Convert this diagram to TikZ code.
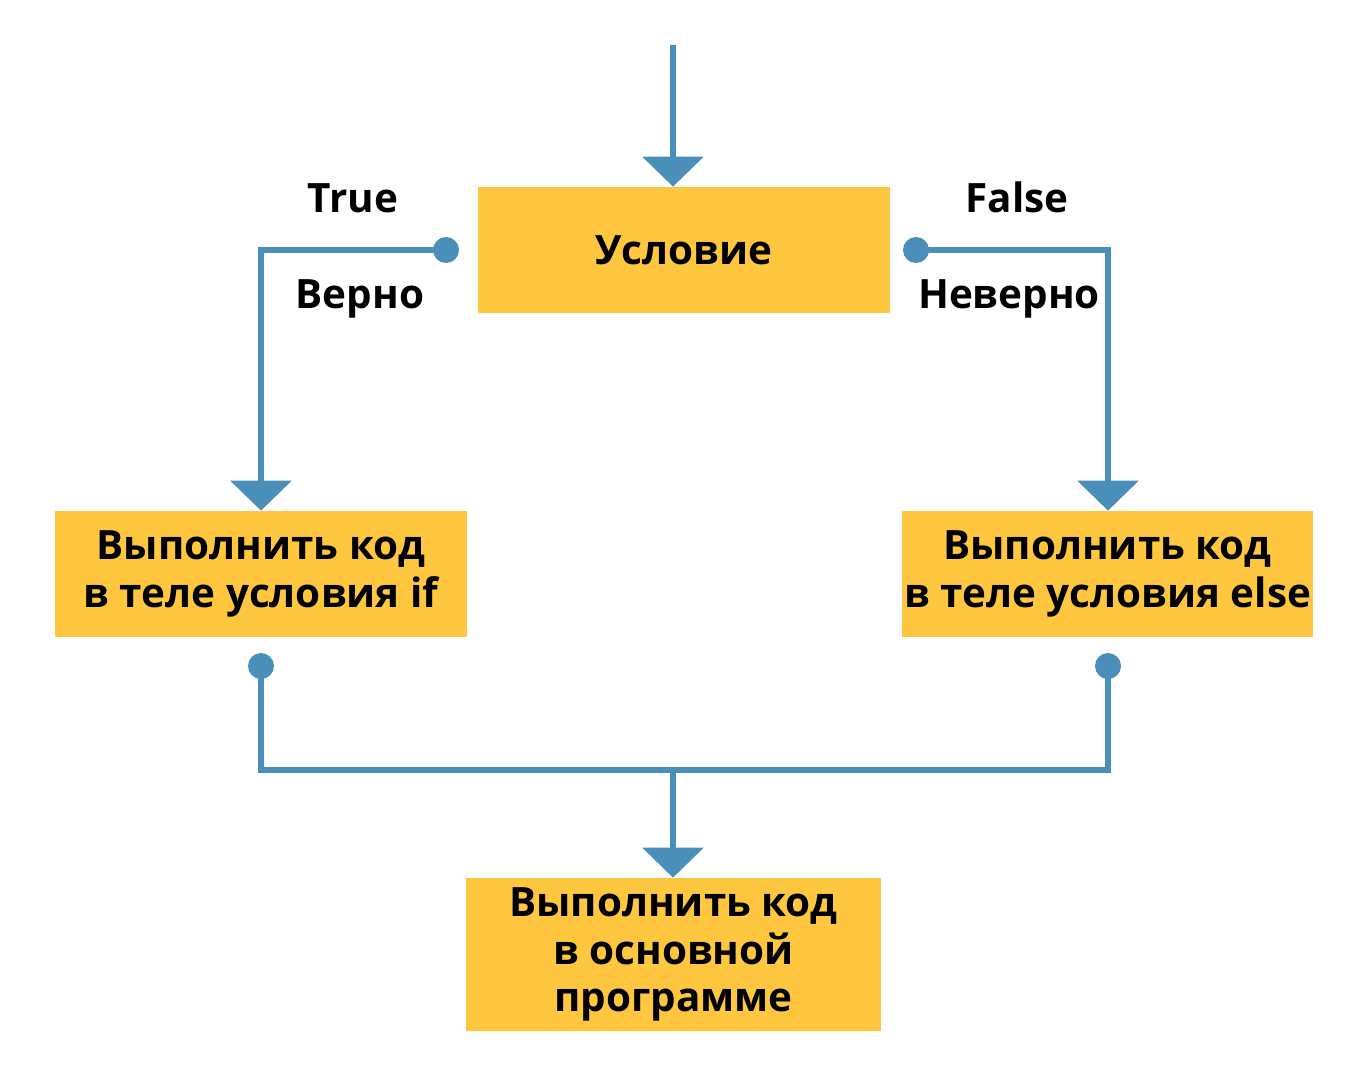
\documentclass[tikz,border=0pt]{standalone}
\usepackage{fontspec}
\setmainfont{Open Sans}
\usetikzlibrary{arrows.meta,positioning}
\definecolor{boxyellow}{RGB}{255,198,63}
\definecolor{flowblue}{RGB}{74,142,186}
\begin{document}
\begin{tikzpicture}[x=0.02cm,y=-0.02cm]
\tikzstyle{every node}+=[font=\fontsize{23}{27.2}\selectfont\bfseries,align=center]
\tikzstyle{block}=[fill=boxyellow,inner sep=0pt]
\tikzstyle{flow}=[draw=flowblue,line width=3.7pt,-{Triangle[length=0.6cm,width=1.2cm]}]
\tikzstyle{wire}=[draw=flowblue,line width=3.7pt]
\useasboundingbox (0,0) rectangle (1363,1065);
% boxes
\node [block,minimum width=8.24cm,minimum height=2.52cm] (cond) at (684,250) {Условие};
\node [block,minimum width=8.24cm,minimum height=2.52cm] (ifbody) at (261,574) {Выполнить код\\в теле условия if};
\node [block,minimum width=8.22cm,minimum height=2.52cm] (elsebody) at (1107.5,574) {Выполнить код\\в теле условия else};
\node [block,minimum width=8.3cm,minimum height=3.06cm] (main) at (673.5,954.5) {Выполнить код\\в основной\\программе};
% points
\coordinate (start) at (673,45);
\coordinate (tdot) at (446,250);
\coordinate (fdot) at (916,250);
\coordinate (ifdot) at (261,666);
\coordinate (elsedot) at (1108,666);
\coordinate (join) at (673,770);
% connectors
\draw [flow] (start) -- (start |- cond.north);
\draw [flow] (tdot) -| (ifbody.north);
\draw [flow] (fdot) -| (elsebody.north -| elsedot);
\draw [wire] (ifdot) |- (join) -| (elsedot);
\draw [flow] (join) -- (join |- main.north);
\foreach \p in {tdot,fdot,ifdot,elsedot}
  \fill [flowblue] (\p) circle (0.26cm);
% labels
\node (true) at (353,198) {True};
\node (yes) at (360,299) {Верно};
\node (false) at (1017,197) {False};
\node (no) at (1009,299) {Неверно};
\end{tikzpicture}
\end{document}
